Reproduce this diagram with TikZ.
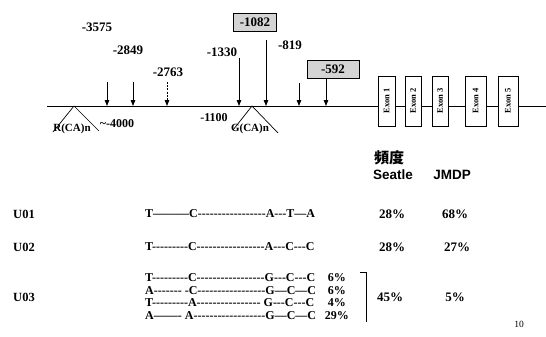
\documentclass[tikz,border=0pt]{standalone}
\usepackage{fontspec}
\setmainfont{Liberation Serif}
\newfontfamily\seqf{Liberation Serif}
\newfontfamily\sansf{Liberation Sans}
\newfontfamily\cjkf{Noto Sans CJK TC}
\usetikzlibrary{arrows.meta}
\begin{document}
\begin{tikzpicture}[x=1pt,y=-1pt,
  lab/.style={font=\bfseries\fontsize{13}{15}\selectfont, inner sep=0pt},
  small/.style={font=\bfseries\fontsize{11}{13}\selectfont, inner sep=0pt},
  seq/.style={font=\seqf\bfseries\fontsize{12}{14}\selectfont, inner sep=0pt, anchor=west},
  arr/.style={-{Triangle[length=6pt,width=4.5pt]}, line width=0.8pt},
  gbox/.style={draw, line width=0.9pt, fill=black!17, inner sep=2pt, minimum height=18pt, font=\bfseries\fontsize{13}{15}\selectfont},
  exon/.style={draw, line width=0.9pt, fill=white, minimum height=50pt, inner sep=0pt},
  exlab/.style={rotate=90, font=\bfseries\fontsize{8.5}{10}\selectfont}
]
\useasboundingbox (0,0) rectangle (546,337);
% main line
\coordinate (L0) at (47,106);
\coordinate (L1) at (546,106);
\draw[line width=0.8pt] (L0) -- (L1);
% triangles
\coordinate (r1) at (53,132); \coordinate (r2) at (74,106); \coordinate (r3) at (99,131);
\draw[line width=0.7pt] (r1) -- (r2) -- (r3);
\coordinate (g1) at (233,130); \coordinate (g2) at (252,106); \coordinate (g3) at (278,133);
\draw[line width=0.7pt] (g1) -- (g2) -- (g3);
% arrows
\foreach \n/\x/\t in {a1/107/82, a2/133/82, a4/239/58, a5/266/40, a6/299/83}{
  \coordinate (\n t) at (\x,\t); \coordinate (\n b) at (\x,106);
  \draw[arr] (\n t) -- (\n b);
}
\coordinate (a3t) at (167,82); \coordinate (a3b) at (167,106);
\draw[arr, dash pattern=on 2pt off 1.2pt] (a3t) -- (a3b);
% labels
\node[lab] (m3575) at (97,27) {-3575};
\node[lab] (m2849) at (128,50) {-2849};
\node[lab] (m2763) at (168,72) {-2763};
\node[lab] (m1330) at (222,52) {-1330};
\node[gbox, minimum width=43pt] (m1082) at (255,22) {-1082};
\node[lab] (m819) at (290,45) {-819};
\node[gbox, minimum width=52pt] (m592) at (333,69) {-592};
\coordinate (a7b) at (326,106);
\draw[arr] (m592.south -| a7b) -- (a7b);
\node[small] (rca) at (72,129) {R(CA)n};
\node[small, font=\bfseries\fontsize{12}{14}\selectfont] (m4000) at (117,124) {\textasciitilde-4000};
\node[small, font=\bfseries\fontsize{12}{14}\selectfont] (m1100) at (214,118) {-1100};
\node[small] (gca) at (250,129) {G(CA)n};
% exons
\node[exon, minimum width=17pt] (e1) at (386.5,101) {};
\node[exlab] at (e1) {Exon 1};
\node[exon, minimum width=16pt] (e2) at (413,101) {};
\node[exlab] at (e2) {Exon 2};
\node[exon, minimum width=16pt] (e3) at (440,101) {};
\node[exlab] at (e3) {Exon 3};
\node[exon, minimum width=21pt] (e4) at (475.5,101) {};
\node[exlab] at (e4) {Exon 4};
\node[exon, minimum width=20pt] (e5) at (508,101) {};
\node[exlab] at (e5) {Exon 5};
% table header
\node[inner sep=0pt, font=\cjkf\bfseries\fontsize{15}{17}\selectfont] (freq) at (389,158) {頻度};
\node[inner sep=0pt, font=\sansf\bfseries\fontsize{13.5}{15}\selectfont] (seat) at (393,175) {Seatle};
\node[inner sep=0pt, font=\sansf\bfseries\fontsize{13.5}{15}\selectfont] (jmdp) at (452,175) {JMDP};
% rows
\node[lab, font=\bfseries\fontsize{12.5}{14}\selectfont] (u1) at (24,214) {U01};
\node[lab, font=\bfseries\fontsize{12.5}{14}\selectfont] (u2) at (24,247) {U02};
\node[lab, font=\bfseries\fontsize{12.5}{14}\selectfont] (u3) at (24,297) {U03};
\node[seq] (s1) at (145,214) {T———C-----------------A---T—A};
\node[seq] (s2) at (145,247) {T---------C-----------------A---C---C};
\node[seq] (s3) at (145,278) {T---------C-----------------G---C---C};
\node[seq] (s4) at (145,291) {A------- -C-----------------G—C—C};
\node[seq] (s5) at (145,303) {T---------A---------------- G---C---C};
\node[seq] (s6) at (145,316) {A——- A------------------G—C—C};
\node[seq, anchor=east] (p3) at (346,278) {6\%};
\node[seq, anchor=east] (p4) at (346,291) {6\%};
\node[seq, anchor=east] (p5) at (346,303) {4\%};
\node[seq, anchor=east] (p6) at (349,316) {29\%};
\node[lab] (v11) at (392,214) {28\%};
\node[lab] (v12) at (455,214) {68\%};
\node[lab] (v21) at (392,247) {28\%};
\node[lab] (v22) at (457,247) {27\%};
\node[lab] (v31) at (390,297) {45\%};
\node[lab] (v32) at (455,297) {5\%};
\coordinate (bk1) at (360,272); \coordinate (bk2) at (366,272); \coordinate (bk3) at (366,322);
\draw[line width=0.8pt] (bk1) -- (bk2) -- (bk3);
\node[inner sep=0pt, font=\fontsize{9.5}{11}\selectfont] (pg) at (519,324) {10};
\end{tikzpicture}
\end{document}
